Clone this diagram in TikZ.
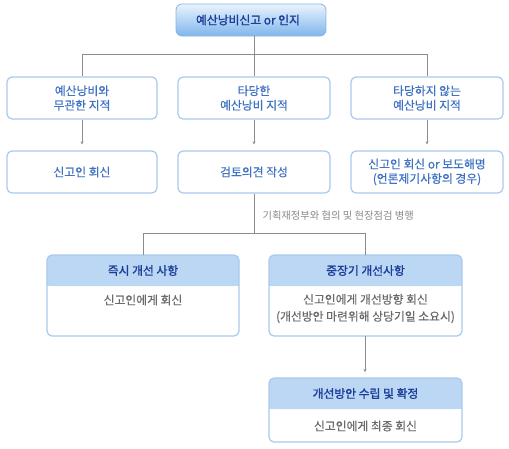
\documentclass[tikz,border=0pt]{standalone}
\usepackage{fontspec}
\setmainfont{Noto Sans CJK KR}
\newfontfamily\krbold{Noto Sans CJK KR}[FakeBold=1.5]
\newfontfamily\krmed{Noto Sans CJK KR}[FakeBold=0.4]
\usetikzlibrary{arrows.meta,calc}
\definecolor{bord}{HTML}{A9C9EC}
\definecolor{txtb}{HTML}{3F72C2}
\definecolor{hdr}{HTML}{BCD7F4}
\definecolor{hdrtxt}{HTML}{1B3E9A}
\definecolor{gtxt}{HTML}{6A6A6A}
\definecolor{lin}{HTML}{8C8C8C}
\definecolor{topA}{HTML}{EAF3FD}
\definecolor{topB}{HTML}{7FB6EC}
\definecolor{topbord}{HTML}{86B5E6}
\tikzset{
  x=1pt,y=-1pt,
  rowbox/.style={draw=bord,line width=1.2pt,rounded corners=5pt,fill=white,
    text=txtb,align=center,font=\krmed\fontsize{11.8}{14.5}\selectfont,inner sep=0pt},
  conn/.style={draw=lin,line width=0.6pt},
  arr/.style={conn,-{Stealth[length=3pt,width=3pt]},shorten >=6pt},
  hdrtext/.style={text=hdrtxt,font=\krbold\fontsize{11.8}{14}\selectfont},
  bodytext/.style={text=gtxt,align=center,font=\krmed\fontsize{11.8}{17}\selectfont},
}
\begin{document}
\begin{tikzpicture}
\useasboundingbox (0,0) rectangle (509,448);
% top box
\shade[top color=topA,bottom color=topB,rounded corners=6pt] (176,4) rectangle (326,36);
\draw[topbord,line width=0.8pt,rounded corners=6pt] (176,4) rectangle (326,36);
\node[hdrtext,font=\krbold\fontsize{11.8}{14}\selectfont] (top) at (248,20) {예산낭비신고 or 인지};
\coordinate (topb) at (254,36);
% row 1
\node[rowbox,minimum width=150pt,minimum height=42pt] (a1) at (82,98) {예산낭비와\\무관한 지적};
\node[rowbox,minimum width=152pt,minimum height=42pt] (a2) at (254,98) {타당한\\예산낭비 지적};
\node[rowbox,minimum width=152pt,minimum height=42pt] (a3) at (427,98) {타당하지 않는\\예산낭비 지적};
% row 2
\node[rowbox,minimum width=150pt,minimum height=42pt] (b1) at (82,172) {신고인 회신};
\node[rowbox,minimum width=152pt,minimum height=42pt] (b2) at (254,172) {검토의견 작성};
\node[rowbox,minimum width=152pt,minimum height=42pt] (b3) at (427,172) {신고인 회신 or 보도해명\\(언론제기사항의 경우)};
% top connectors
\coordinate (hl) at (82,54);
\coordinate (hr) at (427,54);
\draw[conn] (topb) -- (254,54);
\draw[conn] (a1.north) -- (hl) -- (hr) -- (a3.north);
\draw[conn] (254,54) -- (a2.north);
\draw[arr] (a1.south) -- (b1.north);
\draw[arr] (a2.south) -- (b2.north);
\draw[arr] (a3.south) -- (b3.north);
% lower boxes
\fill[white,rounded corners=5pt] (47,255) rectangle (239,336);
\fill[hdr,rounded corners=5pt] (47,255) rectangle (239,286);
\fill[hdr] (47,270) rectangle (239,286);
\draw[bord,line width=1.2pt,rounded corners=5pt] (47,255) rectangle (239,336);
\node[hdrtext] (c1h) at (143,270.5) {즉시 개선 사항};
\node[bodytext] (c1b) at (143,300) {신고인에게 회신};
\coordinate (c1t) at (143,255);

\fill[white,rounded corners=5pt] (269,255) rectangle (462,336);
\fill[hdr,rounded corners=5pt] (269,255) rectangle (462,286);
\fill[hdr] (269,270) rectangle (462,286);
\draw[bord,line width=1.2pt,rounded corners=5pt] (269,255) rectangle (462,336);
\node[hdrtext] (c2h) at (365.5,270.5) {중장기 개선사항};
\node[bodytext] (c2b) at (365.5,308.5) {신고인에게 개선방향 회신\\(개선방안 마련위해 상당기일 소요시)};
\coordinate (c2t) at (365,255);
\coordinate (c2bot) at (365,336);

\fill[white,rounded corners=5pt] (269,378) rectangle (462,442);
\fill[hdr,rounded corners=5pt] (269,378) rectangle (462,409);
\fill[hdr] (269,393) rectangle (462,409);
\draw[bord,line width=1.2pt,rounded corners=5pt] (269,378) rectangle (462,442);
\node[hdrtext] (dh) at (365.5,393.5) {개선방안 수립 및 확정};
\node[bodytext] (db) at (365.5,426) {신고인에게 최종 회신};
\coordinate (dt) at (365,378);
% mid connectors
\coordinate (ml) at (143,233);
\coordinate (mr) at (365,233);
\draw[conn] (b2.south) -- (254,233);
\draw[conn] (c1t) -- (ml) -- (mr) -- (c2t);
\node[text=gtxt!80,font=\fontsize{10.3}{12}\selectfont,anchor=west] (lbl) at (259,216) {기획재정부와 협의 및 현장점검 병행};
\draw[arr] (c2bot) -- (dt);
\end{tikzpicture}
\end{document}
